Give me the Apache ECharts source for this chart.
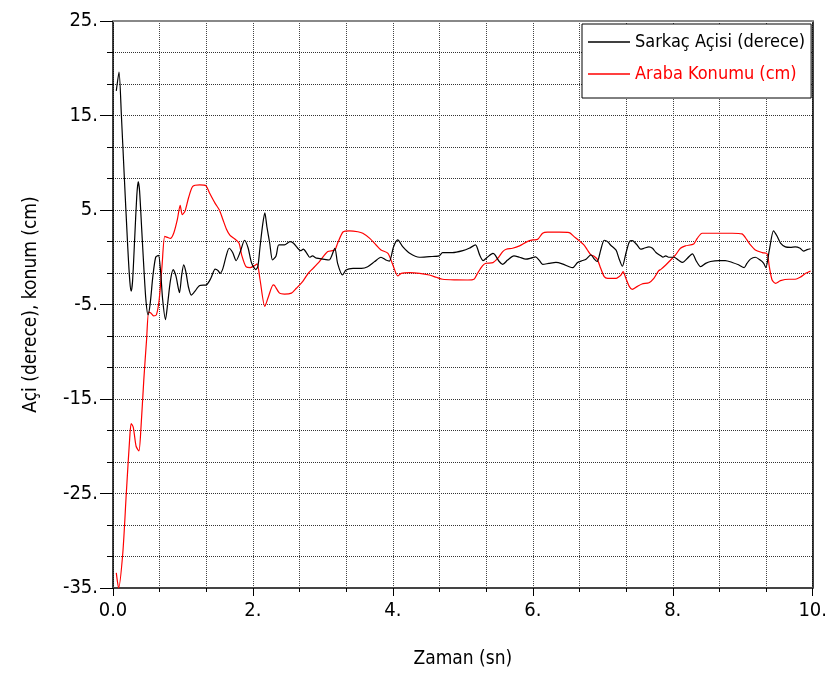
<!DOCTYPE html>
<html>
<head>
<meta charset="utf-8">
<script src="https://cdn.jsdelivr.net/npm/echarts@6/dist/echarts.min.js"></script>
<style>
html,body{margin:0;padding:0;background:#fff;}
#chart{width:830px;height:685px;}
</style>
</head>
<body>
<div id="chart"></div>
<script>
// ---- Data ----
var seriesNames = ['Sarkaç Açisi (derece)', 'Araba Konumu (cm)'];

var pendulumTime = [0.047,0.086,0.12,0.157,0.21,0.24,0.26,0.28,0.31,0.34,0.36,0.38,0.41,0.44,0.47,0.50,0.53,0.57,0.61,0.65,0.68,0.71,0.75,0.78,0.82,0.86,0.90,0.95,0.98,1.01,1.04,1.08,1.12,1.16,1.24,1.34,1.40,1.46,1.50,1.53,1.57,1.62,1.66,1.71,1.76,1.82,1.88,1.93,1.98,2.04,2.07,2.10,2.14,2.17,2.20,2.24,2.28,2.33,2.37,2.45,2.53,2.58,2.64,2.68,2.72,2.77,2.81,2.85,2.91,3.00,3.09,3.17,3.21,3.28,3.33,3.43,3.55,3.64,3.74,3.83,3.90,3.95,4.01,4.07,4.14,4.24,4.38,4.52,4.66,4.71,4.85,5.00,5.09,5.18,5.24,5.29,5.35,5.43,5.46,5.52,5.57,5.64,5.73,5.81,5.90,5.97,6.04,6.09,6.14,6.23,6.33,6.42,6.52,6.57,6.64,6.71,6.76,6.83,6.88,6.92,6.97,7.02,7.07,7.11,7.19,7.23,7.28,7.33,7.38,7.42,7.49,7.54,7.59,7.66,7.71,7.76,7.83,7.86,7.90,7.94,8.02,8.08,8.14,8.21,8.28,8.34,8.40,8.47,8.54,8.66,8.75,8.85,8.94,9.02,9.06,9.11,9.18,9.25,9.30,9.33,9.38,9.44,9.49,9.54,9.61,9.68,9.75,9.82,9.87,9.92,9.97];
var pendulumAngle = [17.6,19.6,15.0,9.2,1.2,-2.5,-3.6,-2.5,2.0,6.5,8.0,7.0,3.0,-1.0,-4.5,-6.1,-5.0,-2.0,0.0,0.2,-1.5,-4.5,-6.6,-5.0,-2.5,-1.3,-2.0,-3.75,-2.0,-0.8,-1.5,-3.2,-4.0,-3.7,-3.0,-2.9,-2.2,-1.25,-1.4,-1.7,-1.2,0.2,0.95,0.5,-0.35,0.6,1.8,1.0,-0.6,-1.3,-1.0,1.0,3.5,4.7,3.2,1.48,-0.29,0.14,1.3,1.3,1.65,1.48,0.95,0.7,0.85,0.42,0.0,0.14,-0.1,-0.2,-0.29,0.95,-0.64,-1.88,-1.35,-1.17,-1.17,-1.0,-0.46,0.0,-0.29,-0.4,1.12,1.83,1.12,0.42,0.0,0.07,0.14,0.49,0.49,0.7,0.95,1.3,0.25,-0.35,0.0,0.4,0.25,-0.45,-0.75,-0.3,0.15,0.0,-0.2,-0.1,0.05,-0.3,-0.75,-0.65,-0.55,-0.7,-1.0,-1.1,-0.55,-0.35,-0.2,0.25,-0.2,-0.45,0.75,1.8,1.65,1.3,0.75,-0.1,-0.95,0.4,1.65,1.75,1.3,0.85,0.95,1.1,0.95,0.5,0.15,0.0,0.15,0.0,0.0,-0.3,-0.55,-0.1,0.35,-0.45,-1.0,-0.65,-0.45,-0.35,-0.35,-0.55,-0.8,-1.1,-0.65,-0.2,0.0,-0.3,-0.65,-1.1,0.75,2.8,2.25,1.5,1.1,1.05,1.1,0.95,0.65,0.8,0.9];

var cartTime = [0.047,0.08,0.14,0.19,0.24,0.26,0.29,0.33,0.37,0.40,0.44,0.48,0.51,0.54,0.58,0.62,0.66,0.70,0.74,0.78,0.82,0.87,0.92,0.96,0.99,1.03,1.08,1.14,1.24,1.33,1.38,1.46,1.52,1.57,1.62,1.67,1.73,1.80,1.84,1.90,1.96,2.02,2.06,2.10,2.17,2.22,2.29,2.31,2.38,2.45,2.55,2.62,2.71,2.79,2.86,2.95,3.07,3.17,3.21,3.29,3.38,3.50,3.57,3.67,3.76,3.83,3.93,4.00,4.07,4.12,4.24,4.38,4.52,4.62,4.71,4.90,5.07,5.16,5.21,5.28,5.33,5.43,5.50,5.57,5.62,5.71,5.81,5.92,6.00,6.07,6.14,6.21,6.38,6.52,6.59,6.66,6.73,6.78,6.83,6.87,6.92,6.97,7.02,7.07,7.19,7.26,7.29,7.33,7.38,7.42,7.49,7.56,7.66,7.73,7.80,7.83,7.90,7.97,8.04,8.11,8.18,8.30,8.35,8.42,8.61,8.85,8.99,9.06,9.11,9.18,9.28,9.35,9.38,9.42,9.47,9.54,9.66,9.75,9.82,9.90,9.97];
var cartPosition = [-33.4,-35.0,-31.3,-25.0,-19.0,-17.6,-18.0,-20.0,-20.5,-18.0,-13.0,-8.7,-5.8,-5.9,-6.2,-6.1,-4.5,-1.0,2.2,2.1,2.0,2.6,4.0,5.5,4.5,4.9,6.3,7.5,7.65,7.55,6.8,5.7,5.0,4.0,3.0,2.35,2.0,1.5,0.2,-1.0,-1.1,-0.9,-0.7,-2.3,-5.2,-4.2,-2.93,-3.0,-3.8,-3.9,-3.8,-3.28,-2.58,-1.7,-1.17,-0.46,0.6,0.77,1.48,2.7,2.8,2.7,2.54,2.0,1.3,0.77,0.42,-0.82,-1.98,-1.7,-1.63,-1.7,-1.88,-2.12,-2.33,-2.4,-2.41,-2.33,-1.7,-0.92,-0.64,-0.57,-0.1,0.6,0.85,0.95,1.2,1.65,1.83,1.9,2.54,2.65,2.65,2.6,2.18,1.76,1.3,0.77,0.25,0.14,-0.2,-1.17,-2.05,-2.23,-2.23,-1.88,-1.53,-2.23,-3.11,-3.39,-3.11,-2.83,-2.69,-2.23,-1.42,-1.28,-0.82,-0.29,0.25,0.95,1.2,1.41,2.0,2.54,2.54,2.54,2.47,1.83,1.3,0.77,0.49,0.35,-1.0,-2.41,-2.76,-2.48,-2.33,-2.33,-2.12,-1.7,-1.45];

var xLabelValues = [0, 2, 4, 6, 8, 10];
var yLabelValues = [-35, -25, -15, -5, 5, 15, 25];

// ---- Chart ----
function pairs(xs, ys) { return xs.map(function (x, i) { return [x, ys[i]]; }); }
var FONT = "'Liberation Sans Narrow', 'DejaVu Sans Condensed', 'Liberation Sans', sans-serif";

var chart = echarts.init(document.getElementById('chart'), null, { renderer: 'canvas' });
var option = {
  animation: false,
  backgroundColor: '#fff',
  grid: { left: 113, right: 16, top: 21, bottom: 97, containLabel: false },
  legend: {
    orient: 'vertical',
    left: 582, top: 24,
    padding: [7, 6, 13, 6],
    itemWidth: 42, itemHeight: 1.5, itemGap: 10,
    icon: 'rect',
    backgroundColor: '#fff', borderColor: '#000', borderWidth: 1,
    textStyle: { fontFamily: FONT, fontSize: 18, lineHeight: 22 },
    data: [
      { name: seriesNames[0], icon: 'rect', itemStyle: { color: '#000' }, textStyle: { color: '#000' } },
      { name: seriesNames[1], icon: 'rect', itemStyle: { color: '#ff0000' }, textStyle: { color: '#ff0000' } }
    ]
  },
  xAxis: [
    {
      type: 'value', min: 0, max: 10, interval: 2, position: 'bottom',
      name: 'Zaman (sn)', nameLocation: 'middle', nameGap: 62,
      nameTextStyle: { fontFamily: FONT, fontSize: 19, color: '#000' },
      axisLine: { onZero: false, lineStyle: { color: '#444', width: 2 } },
      axisTick: { show: true, length: 8, inside: false, lineStyle: { color: '#000' } },
      axisLabel: {
        margin: 13, fontFamily: FONT, fontSize: 20, color: '#000',
        customValues: xLabelValues,
        formatter: function (v) { return v === 0 ? '0.0' : (v + '.'); }
      },
      splitLine: { show: false }
    },
    {
      type: 'value', min: 0, max: 15, interval: 1, position: 'bottom',
      axisLine: { show: false, onZero: false },
      axisTick: { show: true, length: 4, inside: false, lineStyle: { color: '#000' } },
      axisLabel: { show: false },
      splitLine: { show: true, lineStyle: { type: 'dotted', color: '#444', width: 1 } }
    },
    {
      type: 'value', min: 0, max: 1, position: 'top',
      axisLine: { show: true, onZero: false, lineStyle: { color: '#888', width: 2 } },
      axisTick: { show: false }, axisLabel: { show: false }, splitLine: { show: false }
    }
  ],
  yAxis: [
    {
      type: 'value', min: -35, max: 25, interval: 5, position: 'left',
      name: 'Açi (derece), konum (cm)', nameLocation: 'middle', nameGap: 72,
      nameTextStyle: { fontFamily: FONT, fontSize: 19, color: '#000' },
      axisLine: { onZero: false, lineStyle: { color: '#000', width: 1.5 } },
      axisTick: { show: true, length: 13, customValues: yLabelValues, lineStyle: { color: '#000' } },
      axisLabel: {
        margin: 15, fontFamily: FONT, fontSize: 20, color: '#000',
        customValues: yLabelValues,
        formatter: function (v) { return v + '.'; }
      },
      splitLine: { show: false }
    },
    {
      type: 'value', min: 0, max: 18, interval: 1, position: 'left',
      axisLine: { show: false, onZero: false },
      axisTick: { show: true, length: 6, lineStyle: { color: '#000' } },
      axisLabel: { show: false },
      splitLine: { show: true, lineStyle: { type: 'dotted', color: '#333', width: 1 } }
    },
    {
      type: 'value', min: 0, max: 1, position: 'right',
      axisLine: { show: true, onZero: false, lineStyle: { color: '#000', width: 1.5 } },
      axisTick: { show: false }, axisLabel: { show: false }, splitLine: { show: false }
    }
  ],
  series: [
    {
      name: seriesNames[0], type: 'line', xAxisIndex: 0, yAxisIndex: 0,
      data: pairs(pendulumTime, pendulumAngle),
      symbol: 'none', smooth: 0.25,
      lineStyle: { color: '#000', width: 1.2 }, itemStyle: { color: '#000' }, z: 3
    },
    {
      name: seriesNames[1], type: 'line', xAxisIndex: 0, yAxisIndex: 0,
      data: pairs(cartTime, cartPosition),
      symbol: 'none', smooth: 0.25,
      lineStyle: { color: '#ff0000', width: 1.2 }, itemStyle: { color: '#ff0000' }, z: 2
    }
  ]
};
chart.setOption(option);
</script>
</body>
</html>
